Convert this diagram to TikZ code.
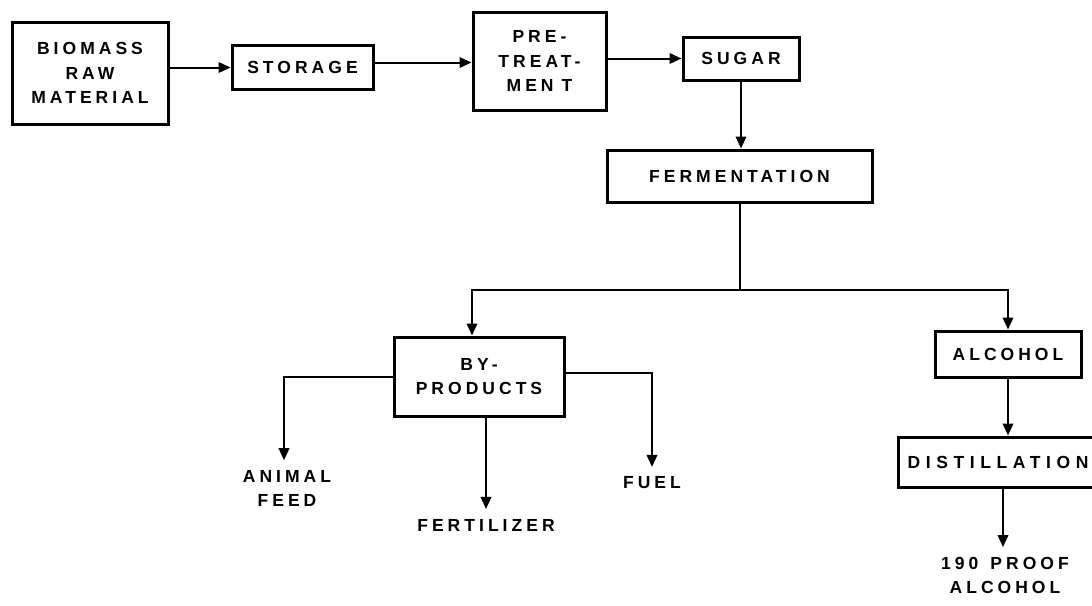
\documentclass[tikz,border=0pt]{standalone}
\usepackage{fontspec}
\setmainfont{Liberation Sans}
\newfontfamily\labelfont[LetterSpace=23]{Liberation Sans}
\usetikzlibrary{arrows.meta}
\begin{document}
\begin{tikzpicture}[x=1pt,y=-1pt,
  every node/.style={font=\labelfont\bfseries\fontsize{17.5}{24.5}\selectfont, align=center, inner sep=0pt},
  stage/.style={draw, line width=3pt, minimum width=#1},
  flow/.style={line width=2pt},
  arr/.style={flow, -{Triangle[length=12pt,width=10.5pt]}},
  product/.style={outer ysep=10pt}]
\useasboundingbox (0,0) rectangle (1092,605);

% process stages
\node[stage=156pt, minimum height=102pt] (bio) at (90,73) {BIOMASS\\RAW\\MATERIAL};
\node[stage=141pt, minimum height=44pt] (stor) at (302.5,67.5) {STORAGE};
\node[stage=133pt, minimum height=98pt] (pre) at (539.5,61) {PRE-\\TREAT-\\MEN\hspace{8pt}T};
\node[stage=116pt, minimum height=43pt] (sug) at (741,58.5) {SUGAR};
\node[stage=265pt, minimum height=52pt] (fer) at (739.5,176) {FERMENTATION};
\node[stage=170pt, minimum height=79pt] (byp) at (479,376.5) {BY-\\PRODUCTS};
\node[stage=146pt, minimum height=46pt] (alc) at (1008,354) {ALCOHOL};
\node[stage=200pt, minimum height=50pt] (dis) at (998,462) {\addfontfeature{LetterSpace=32}DISTILLATION};

% end products
\node[product] (feed) at (287,488.5) {ANIMAL\\FEED};
\node[product] (fert) at (486,525) {FERTILIZER};
\node[product] (fuel) at (652,483) {FUEL};
\node[product] (proof) at (1005,575.5) {190\hspace{12pt}PROOF\\ALCOHOL};

\coordinate (split) at (740,290);

% main line
\draw[arr] (stor.west -| bio.east) -- (stor.west);
\draw[arr] ([yshift=5pt]stor.east) -- ([yshift=5pt]stor.east -| pre.west);
\draw[arr] (sug.west -| pre.east) -- (sug.west);
\draw[arr] (sug.south) -- (sug.south |- fer.north);
\draw[flow] (fer.south -| split) -- (split);
\draw[arr] (split) -| ([xshift=-7pt]byp.north);
\draw[arr] (split) -| (alc.north);

% by-products
\draw[arr] (byp.west) -| ([xshift=-3pt]feed.north);
\draw[arr] ([yshift=4pt]byp.east) -| (fuel.north);
\draw[arr] (fert.north |- byp.south) -- (fert.north);

% alcohol line
\draw[arr] (alc.south) -- (alc.south |- dis.north);
\draw[arr] ([xshift=-2pt]proof.north |- dis.south) -- ([xshift=-2pt]proof.north);
\end{tikzpicture}
\end{document}
